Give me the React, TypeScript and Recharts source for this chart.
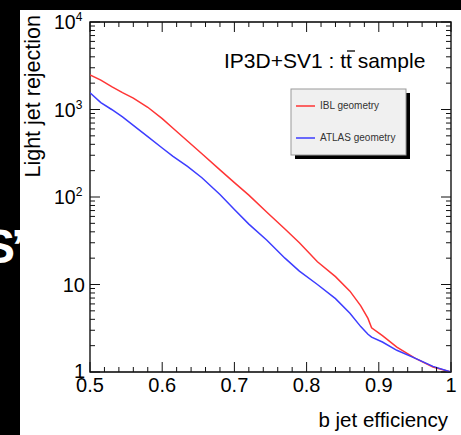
import React from 'react';
import { LineChart, Line, XAxis, YAxis, ReferenceArea } from 'recharts';

// b-jet efficiency (x) and light-jet rejection (y) for each geometry
const efficiency = [0.5, 0.515, 0.53, 0.545, 0.56, 0.58, 0.6, 0.615, 0.635, 0.655, 0.68, 0.7, 0.72, 0.745, 0.77, 0.79, 0.815, 0.84, 0.86, 0.875, 0.885, 0.89, 0.905, 0.925, 0.95, 0.975, 1.0];
const iblRejection = [2480, 2170, 1830, 1560, 1350, 1060, 785, 610, 436, 312, 204, 146, 105, 67, 43, 30, 18.2, 12.3, 8.4, 5.7, 4.1, 3.2, 2.6, 1.92, 1.44, 1.14, 1.0];
const atlasRejection = [1550, 1200, 1000, 822, 660, 490, 363, 292, 224, 166, 107, 72, 49, 32, 20, 14.2, 10, 6.9, 4.7, 3.3, 2.7, 2.5, 2.2, 1.77, 1.44, 1.16, 1.0];

const seriesNames = ['IBL geometry', 'ATLAS geometry'];
const seriesColors = ['#ff3535', '#3d3dff'];

const xMajorTicks = [0.5, 0.6, 0.7, 0.8, 0.9, 1];
const xMajorLabels = ['0.5', '0.6', '0.7', '0.8', '0.9', '1'];
const xMinorTicks = [0.52, 0.54, 0.56, 0.58, 0.62, 0.64, 0.66, 0.68, 0.72, 0.74, 0.76, 0.78, 0.82, 0.84, 0.86, 0.88, 0.92, 0.94, 0.96, 0.98];

const yMajorTicks = [1, 10, 100, 1000, 10000];
const yLabelBase = ['1', '10', '10', '10', '10'];
const yLabelExp = ['', '', '2', '3', '4'];
const yMinorTicks = [2, 3, 4, 5, 6, 7, 8, 9, 20, 30, 40, 50, 60, 70, 80, 90, 200, 300, 400, 500, 600, 700, 800, 900, 2000, 3000, 4000, 5000, 6000, 7000, 8000, 9000];

const titleText = 'IP3D+SV1 : t';
const titleBarred = 't';
const titleRest = ' sample';
const xTitle = 'b jet efficiency';
const yTitle = 'Light jet rejection';

const data = efficiency.map((e, i) => ({ eff: e, ibl: iblRejection[i], atlas: atlasRejection[i] }));

const W = 461;
const H = 435;
const YAXIS_W = 60;
const XAXIS_H = 40;
const PLOT_LEFT = 90;
const PLOT_TOP = 22;
const PLOT_RIGHT = 451;
const PLOT_BOTTOM = 372;
const M = { top: PLOT_TOP, left: PLOT_LEFT - YAXIS_W, right: W - PLOT_RIGHT, bottom: H - PLOT_BOTTOM - XAXIS_H };
const PW = PLOT_RIGHT - PLOT_LEFT;
const PH = PLOT_BOTTOM - PLOT_TOP;
const FONT = '"Liberation Sans", Arial, Helvetica, sans-serif';
const TICK = '#111';

const XTick = (props: any) => {
  const { x, y, payload } = props;
  const v = payload.value;
  const mi = xMajorTicks.findIndex((t) => Math.abs(t - v) < 1e-6);
  const len = mi >= 0 ? 10 : 5;
  return (
    <g>
      <line x1={x} x2={x} y1={y} y2={y - len} stroke={TICK} strokeWidth={1} />
      <line x1={x} x2={x} y1={y - PH} y2={y - PH + len} stroke={TICK} strokeWidth={1} />
      {mi >= 0 && (
        <text x={x} y={y + 20} textAnchor="middle" fontFamily={FONT} fontSize={20} fill="#000">
          {xMajorLabels[mi]}
        </text>
      )}
    </g>
  );
};

const YTick = (props: any) => {
  const { x, y, payload } = props;
  const v = payload.value;
  const mi = yMajorTicks.findIndex((t) => Math.abs(t - v) < 1e-6 * t);
  const len = mi >= 0 ? 10 : 5;
  let label = null;
  if (mi >= 0) {
    const exp = yLabelExp[mi];
    const dy = mi === 0 ? 6 : 7;
    if (exp) {
      label = (
        <text x={x - 36} y={y + dy} textAnchor="start" fontFamily={FONT} fontSize={19.5} fill="#000">
          <tspan>{yLabelBase[mi]}</tspan>
          <tspan dy={-8} fontSize={12}>{exp}</tspan>
        </text>
      );
    } else {
      label = (
        <text x={x - 5} y={y + dy} textAnchor="end" fontFamily={FONT} fontSize={20} fill="#000">
          {yLabelBase[mi]}
        </text>
      );
    }
  }
  return (
    <g>
      <line x1={x} x2={x + len} y1={y} y2={y} stroke={TICK} strokeWidth={1} />
      <line x1={x + PW} x2={x + PW - len} y1={y} y2={y} stroke={TICK} strokeWidth={1} />
      {label}
    </g>
  );
};

export default function App() {
  const xTicks = [...xMajorTicks, ...xMinorTicks].sort((a, b) => a - b);
  const yTicks = [...yMajorTicks, ...yMinorTicks].sort((a, b) => a - b);
  return (
    <div style={{ position: 'fixed', left: 0, top: 0, width: W, height: H, background: '#fff', overflow: 'hidden' }}>
      <div style={{ position: 'absolute', left: 0, top: 0 }}>
        <LineChart width={W} height={H} data={data} margin={M}>
          <XAxis
            dataKey="eff"
            type="number"
            domain={[0.5, 1]}
            ticks={xTicks}
            interval={0}
            allowDataOverflow
            height={XAXIS_H}
            tickSize={0}
            tickMargin={0}
            axisLine={false}
            tickLine={false}
            tick={<XTick />}
          />
          <YAxis
            type="number"
            scale="log"
            domain={[1, 10000]}
            ticks={yTicks}
            interval={0}
            allowDataOverflow
            width={YAXIS_W}
            tickSize={0}
            tickMargin={0}
            axisLine={false}
            tickLine={false}
            tick={<YTick />}
          />
          <ReferenceArea x1={0.5} x2={1} y1={1} y2={10000} fill="none" stroke="#000" strokeWidth={1.3} ifOverflow="visible" />
          <Line type="linear" dataKey="ibl" stroke={seriesColors[0]} strokeWidth={1.5} dot={false} isAnimationActive={false} />
          <Line type="linear" dataKey="atlas" stroke={seriesColors[1]} strokeWidth={1.5} dot={false} isAnimationActive={false} />
        </LineChart>
      </div>
      <svg width={W} height={H} style={{ position: 'absolute', left: 0, top: 0, pointerEvents: 'none' }}>
        <rect x={0} y={0} width={W} height={10} fill="#000" />
        <rect x={0} y={0} width={20} height={H} fill="#000" />
        <text x={-17} y={263} fontFamily={FONT} fontWeight="bold" fontSize={48} fill="#fff" letterSpacing={-4}>S”</text>
        <text x={224} y={68} fontFamily={FONT} fontSize={21} fill="#000">
          {titleText}
          <tspan>{titleBarred}</tspan>
          {titleRest}
        </text>
        <line x1={347} x2={355} y1={51} y2={51} stroke="#000" strokeWidth={1.3} />
        <text x={448} y={427} textAnchor="end" fontFamily={FONT} fontSize={20.5} fill="#000">{xTitle}</text>
        <text transform="translate(40,15) rotate(-90)" textAnchor="end" fontFamily={FONT} fontSize={21.5} fill="#000">{yTitle}</text>
        <rect x={295} y={93} width={115} height={66} fill="#000" />
        <rect x={291} y={89} width={115} height={66} fill="#f0f0f0" stroke="#999" strokeWidth={1} />
        <line x1={296} x2={315} y1={106} y2={106} stroke={seriesColors[0]} strokeWidth={1.5} />
        <text x={320} y={109} fontFamily={FONT} fontSize={10} fill="#333">{seriesNames[0]}</text>
        <line x1={296} x2={315} y1={138} y2={138} stroke={seriesColors[1]} strokeWidth={1.5} />
        <text x={320} y={141} fontFamily={FONT} fontSize={10} fill="#333">{seriesNames[1]}</text>
      </svg>
    </div>
  );
}
